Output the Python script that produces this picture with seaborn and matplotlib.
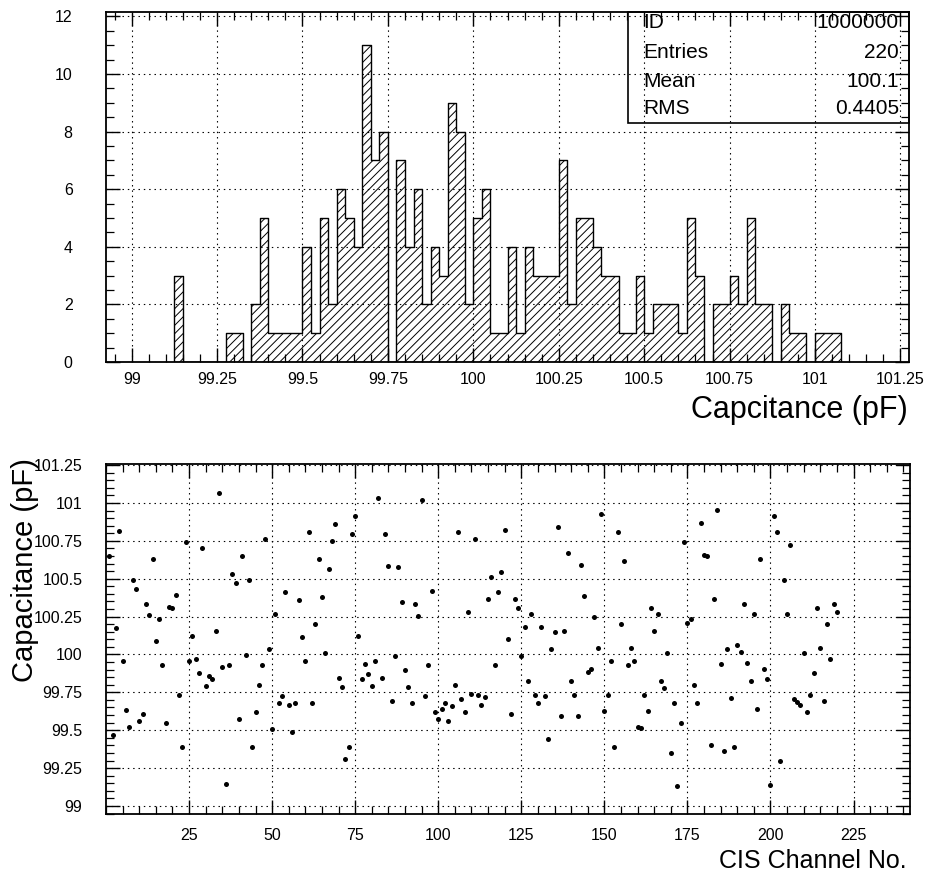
import numpy as np
import pandas as pd
import matplotlib
matplotlib.use("Agg")
import matplotlib.pyplot as plt
from matplotlib.patches import Rectangle
from matplotlib.ticker import FixedLocator, MultipleLocator, FuncFormatter
import seaborn as sns

# ---------------- data ----------------
hist_first_bin = 99.125          # left edge of first listed bin (pF)
hist_bin_width = 0.025           # pF
hist_counts = [
    3, 0, 0, 0, 0, 0, 1, 1, 0, 2,      # 99.125 ...
    5, 1, 1, 1, 1, 4, 1, 5, 2, 6,      # 99.375 ...
    5, 4, 11, 7, 8, 0, 7, 4, 6, 2,     # 99.625 ...
    4, 3, 9, 8, 2, 5, 6, 1, 1, 4,      # 99.875 ...
    1, 4, 3, 3, 3, 7, 2, 5, 5, 4,      # 100.125 ...
    3, 3, 1, 1, 3, 1, 2, 2, 2, 1,      # 100.375 ...
    5, 3, 0, 2, 2, 3, 2, 5, 2, 2,      # 100.625 ...
    0, 2, 1, 1, 0, 1, 1, 1,            # 100.875 ...
]
hist_xlim = [98.925, 101.275]
hist_ylim = [0, 12.15]
hist_xticks = [99, 99.25, 99.5, 99.75, 100, 100.25, 100.5, 100.75, 101, 101.25]
hist_yticks = [0, 2, 4, 6, 8, 10, 12]
stats_labels = ["ID", "Entries", "Mean", "RMS"]
stats_values = ["1000000", "220", "100.1", "0.4405"]

channel_capacitance = [
    100.653, 99.466, 100.174, 100.815, 99.954, 99.633, 99.519, 100.490, 100.433, 99.558,
    99.607, 100.332, 100.262, 100.631, 100.086, 100.231, 99.932, 99.549, 100.314, 100.305,
    100.393, 99.730, 99.391, 100.741, 99.958, 100.125, 99.971, 99.879, 100.705, 99.791,
    99.857, 99.840, 100.152, 101.066, 99.914, 99.145, 99.932, 100.534, 100.473, 99.571,
    100.648, 99.998, 100.490, 99.391, 99.620, 99.800, 99.932, 100.763, 100.037, 99.505,
    100.270, 99.677, 99.725, 100.411, 99.664, 99.488, 99.681, 100.358, 100.112, 99.954,
    100.811, 99.677, 100.204, 100.631, 100.376, 100.007, 100.565, 100.749, 100.859, 99.844,
    99.787, 99.308, 99.391, 100.793, 100.916, 100.125, 99.840, 99.936, 99.870, 99.791,
    99.954, 101.031, 99.844, 100.793, 100.582, 99.690, 99.989, 100.574, 100.345, 99.897,
    99.787, 99.681, 100.332, 100.253, 101.022, 99.725, 99.932, 100.420, 99.620, 99.571,
    99.637, 99.677, 99.558, 99.659, 99.796, 100.811, 99.708, 99.620, 100.279, 99.738,
    100.763, 99.730, 99.664, 99.716, 100.363, 100.512, 99.932, 100.411, 100.543, 100.824,
    100.103, 99.607, 100.367, 100.305, 99.989, 100.178, 99.826, 100.270, 99.730, 99.681,
    100.178, 99.725, 99.444, 100.033, 100.147, 100.842, 99.593, 100.152, 100.670, 99.822,
    99.734, 99.593, 100.591, 100.389, 99.884, 99.905, 100.244, 100.042, 100.930, 99.629,
    99.730, 99.954, 99.391, 100.811, 100.204, 100.618, 99.932, 100.042, 99.954, 99.519,
    99.514, 99.730, 99.629, 100.305, 100.152, 100.270, 99.822, 99.778, 100.007, 99.352,
    99.677, 99.132, 99.545, 100.741, 100.209, 100.231, 99.796, 99.677, 100.868, 100.657,
    100.648, 99.404, 100.367, 100.956, 99.936, 99.365, 100.033, 99.712, 99.391, 100.064,
    100.015, 100.332, 99.941, 99.822, 100.266, 99.637, 100.631, 99.905, 99.840, 99.136,
    100.916, 100.807, 99.299, 100.490, 100.266, 100.723, 99.708, 99.686, 99.664, 100.011,
    99.620, 99.730, 99.879, 100.305, 100.042, 99.690, 100.200, 99.971, 100.332, 100.279,
]
scat_xlim = [0, 242]
scat_ylim = [98.947, 101.257]
scat_xticks = [25, 50, 75, 100, 125, 150, 175, 200, 225]
scat_yticks = [99, 99.25, 99.5, 99.75, 100, 100.25, 100.5, 100.75, 101, 101.25]

# ---------------- style ----------------
sns.set_theme(style="white")
plt.rcParams["font.family"] = ["Liberation Sans", "DejaVu Sans"]
plt.rcParams["hatch.linewidth"] = 0.7
plt.rcParams["hatch.color"] = "black"

W, H = 933, 880
fig = plt.figure(figsize=(W / 100, H / 100), dpi=100)
fig.patch.set_facecolor("white")


def px_axes(left, top, right, bottom):
    return fig.add_axes([left / W, 1 - bottom / H, (right - left) / W, (bottom - top) / H])


ax1 = px_axes(106, 12, 909, 362)
ax2 = px_axes(106, 464, 910, 814)

# ---------------- histogram ----------------
counts = np.array(hist_counts, dtype=float)
lefts = hist_first_bin + hist_bin_width * np.arange(len(counts))
centers = lefts + hist_bin_width / 2
df_h = pd.DataFrame({"cap": centers, "n": counts})
sns.histplot(data=df_h, x="cap", weights="n", binwidth=hist_bin_width,
             binrange=(hist_first_bin, hist_first_bin + hist_bin_width * len(counts)),
             element="step", fill=True, facecolor="white", edgecolor="black",
             linewidth=1.0, hatch="////", ax=ax1)

# ---------------- scatter ----------------
df_s = pd.DataFrame({"ch": np.arange(1, len(channel_capacitance) + 1),
                     "cap": channel_capacitance})
sns.scatterplot(data=df_s, x="ch", y="cap", s=13, color="black",
                linewidth=0, ax=ax2)

fmt = FuncFormatter(lambda v, p: f"{v:g}")
grid_ls = (0, (1.3, 3.5))

for ax in (ax1, ax2):
    ax.set_xlabel("")
    ax.set_ylabel("")
    ax.set_facecolor("white")
    for s in ax.spines.values():
        s.set_color("black")
        s.set_linewidth(1.3)
        s.set_visible(True)
    ax.grid(True, which="major", color="black", linestyle=grid_ls, linewidth=0.8)
    ax.set_axisbelow(False)
    ax.tick_params(which="both", direction="in", top=True, right=True,
                   bottom=True, left=True, color="black", labelcolor="black",
                   labelsize=11.5)
    ax.tick_params(which="major", length=10, width=1.0)
    ax.tick_params(which="minor", length=6, width=0.9)
    ax.xaxis.set_major_formatter(fmt)
    ax.yaxis.set_major_formatter(fmt)

ax1.set_xlim(*hist_xlim)
ax1.set_ylim(*hist_ylim)
ax1.xaxis.set_major_locator(FixedLocator(hist_xticks))
ax1.xaxis.set_minor_locator(MultipleLocator(0.05))
ax1.yaxis.set_major_locator(FixedLocator(hist_yticks))
ax1.yaxis.set_minor_locator(MultipleLocator(0.5))
ax1.tick_params(axis="x", which="major", pad=7)
ax1.tick_params(axis="y", which="major", pad=24)

ax2.set_xlim(*scat_xlim)
ax2.set_ylim(*scat_ylim)
ax2.xaxis.set_major_locator(FixedLocator(scat_xticks))
ax2.xaxis.set_minor_locator(MultipleLocator(5))
ax2.yaxis.set_major_locator(FixedLocator(scat_yticks))
ax2.yaxis.set_minor_locator(MultipleLocator(0.05))
ax2.tick_params(axis="x", which="major", pad=10)
ax2.tick_params(axis="y", which="major", pad=17)

# ---------------- stats box ----------------
bx0 = (628 - 106) / (909 - 106)
by0 = (362 - 123) / 350
ax1.add_patch(Rectangle((bx0, by0), 1 - bx0, 1 - by0, transform=ax1.transAxes,
                        fill=False, edgecolor="black", linewidth=1.2, clip_on=False,
                        zorder=5))
row_px = [23, 52, 81, 109]
for lab, val, ypx in zip(stats_labels, stats_values, row_px):
    yf = (362 - ypx) / 350
    ax1.text((643 - 106) / 803, yf, lab, transform=ax1.transAxes, ha="left",
             va="center", fontsize=15, color="black")
    ax1.text((899 - 106) / 803, yf, val, transform=ax1.transAxes, ha="right",
             va="center", fontsize=15, color="black")

# ---------------- axis titles ----------------
fig.text(908 / W, 1 - 418 / H, "Capcitance (pF)", ha="right", va="baseline",
         fontsize=22, color="black")
fig.text(907 / W, 1 - 868 / H, "CIS Channel No.", ha="right", va="baseline",
         fontsize=18, color="black")
fig.text(25 / W, 1 - 458 / H, "Capacitance (pF)", rotation=90, ha="center",
         va="top", fontsize=21, color="black")

fig.savefig("out.png", dpi=100, facecolor="white")
